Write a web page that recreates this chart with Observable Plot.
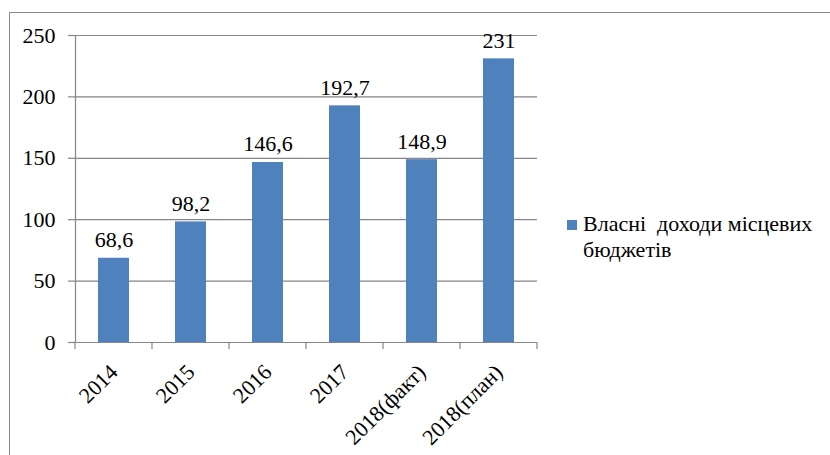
<!DOCTYPE html>
<html><head><meta charset="utf-8">
<script src="https://cdn.jsdelivr.net/npm/d3@7"></script>
<script src="https://cdn.jsdelivr.net/npm/@observablehq/plot@0.6"></script>
<style>
html,body{margin:0;padding:0;background:#fff;overflow:hidden;width:830px;height:455px;}
#wrap{position:relative;width:830px;height:455px;}
#frame{position:absolute;left:9px;top:12px;width:900px;height:500px;border:1.3px solid #8a8a8a;box-sizing:border-box;}
#legend{position:absolute;left:567px;top:211px;font-family:'Liberation Serif';font-size:22px;line-height:26px;color:#000;}
#legend .sw{display:inline-block;width:10px;height:10px;background:#4F81BD;margin-right:6px;vertical-align:1px;}
#legend .l2{padding-left:16px;}
svg{position:absolute;left:0;top:0;}
</style></head>
<body><div id="wrap"><div id="frame"></div><div id="chart"></div>
<div id="legend"><div><span class="sw"></span><span id="lt1" style="white-space:pre"></span></div><div class="l2" id="lt2"></div></div></div>
<script>
const categories = ["2014","2015","2016","2017","2018(факт)","2018(план)"];
const values = [68.6, 98.2, 146.6, 192.7, 148.9, 231];
const valueLabels = ["68,6","98,2","146,6","192,7","148,9","231"];
const yTicks = [0,50,100,150,200,250];
const seriesName = ["Власні  доходи місцевих", "бюджетів"];

document.getElementById("lt1").textContent = seriesName[0];
document.getElementById("lt2").textContent = seriesName[1];

const data = categories.map((c,i)=>({cat:c, v:values[i], label:valueLabels[i]}));
const gray = "#868686";
const chart = Plot.plot({
  width: 830, height: 455,
  marginLeft: 75, marginRight: 293, marginTop: 35, marginBottom: 113,
  style: {fontFamily: "'Liberation Serif'", fontSize: "22px", color: "#000", background: "transparent"},
  x: {domain: categories, paddingInner: 0.6, paddingOuter: 0.3, label: null},
  y: {domain: [0,250], label: null},
  marks: [
    Plot.gridY(yTicks, {stroke: gray, strokeOpacity: 1, strokeWidth: 1.2}),
    Plot.axisY(yTicks, {tickSize: 7, tickPadding: 13, stroke: gray, strokeWidth: 1.2, fontSize: 22, fontFamily: "Liberation Serif", tickFormat: d=>String(d), label: null}),
    Plot.barY(data, {x: "cat", y: "v", fill: "#4F81BD"}),
    Plot.ruleY([0], {stroke: gray, strokeWidth: 1.2, insetLeft: -7}),
    Plot.frame({anchor: "left", stroke: gray, strokeWidth: 1.2}),
    Plot.text(data, {x: "cat", y: "v", text: "label", lineAnchor: "bottom", dy: -11, fontSize: 22, fontFamily: "Liberation Serif"}),
    Plot.axisX({tickSize: 0, tickRotate: -45, tickPadding: 26, fontSize: 22, fontFamily: "Liberation Serif", label: null})
  ]
});
document.getElementById("chart").appendChild(chart);

// category boundary tick marks below the axis, from the x band scale
const xs = chart.scale("x");
const ys = chart.scale("y");
const gap = (xs.step - xs.bandwidth) / 2;
const bounds = categories.map(c => xs.apply(c) - gap).concat([xs.apply(categories[categories.length-1]) + xs.bandwidth + gap]);
const y0 = ys.apply(0);
d3.select(chart).append("g").selectAll("line").data(bounds).join("line")
  .attr("x1", d=>d).attr("x2", d=>d).attr("y1", y0).attr("y2", y0 + 7)
  .attr("stroke", gray).attr("stroke-width", 1.2);
</script></body></html>
